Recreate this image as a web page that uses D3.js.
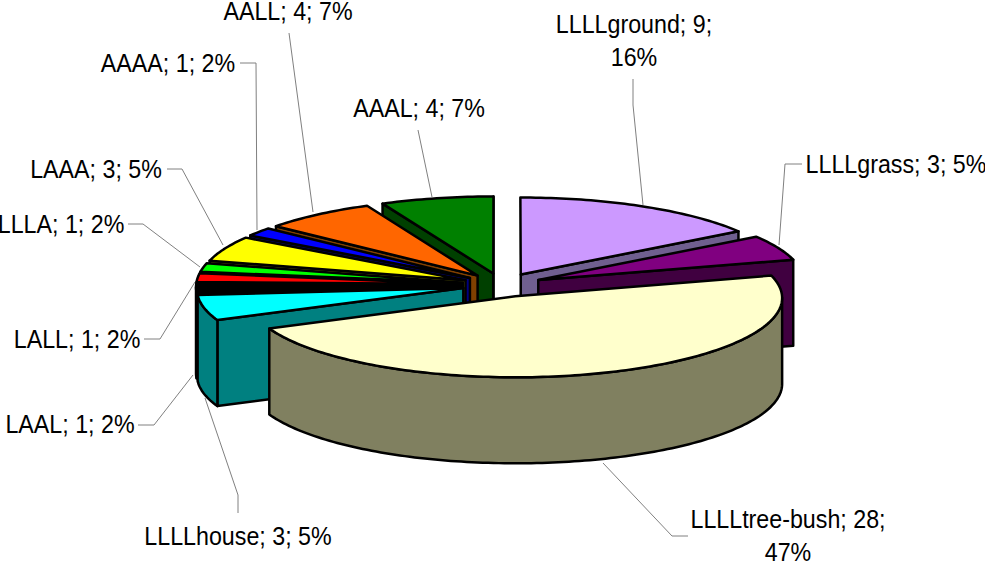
<!DOCTYPE html>
<html><head><meta charset="utf-8">
<style>html,body{margin:0;padding:0;background:#fff}svg{display:block}</style>
<script src="https://cdnjs.cloudflare.com/ajax/libs/d3/7.8.5/d3.min.js"></script>
</head><body><svg id="c" width="985" height="562"></svg>
<script>
const categories=["LLLLground","LLLLgrass","LLLLtree-bush","LLLLhouse","LAAL","LALL","LLLA","LAAA","AAAA","AALL","AAAL"];
const values=[9,3,28,3,1,1,1,3,1,4,4];
const percents=[16,5,47,5,2,2,2,5,2,7,7];
const shares=[15.6,5.2,47.6,5.2,1.8,1.8,1.8,5.2,1.8,7,7];
const topColors=["#CC99FF","#800080","#FFFFCC","#00FFFF","#000000","#FF0000","#00FF00","#FFFF00","#0000FF","#FF6600","#008000"];
const sideColors=["#6F5F8F","#400040","#808060","#008080","#000000","#800000","#008000","#808000","#000080","#804000","#004000"];
const labelWrap=[1,0,1,0,0,0,0,0,0,0,0];
const labelAnchor=[[634,33],[896,173],[788,528],[238,545],[70,433],[77,348],[61,233],[96,178],[168,72],[288,20],[419,117]];
const leaders=[
 [[633,79],[633,105],[643,205]],
 [[802,164],[785,164],[779,245]],
 [[603,463],[672,536],[688,536]],
 [[205,398],[238,495],[238,513]],
 [[193,375],[154,425],[138,425]],
 [[195,282],[160,339],[144,339]],
 [[200,267],[143,224],[128,224]],
 [[223,245],[182,169],[167,169]],
 [[257,230],[256,63],[240,63]],
 [[313,212],[289,33]],
 [[432,197],[418,130]]
];
const cx=502,cy=285,rx=266,ry=79,depth=86,explode=0.15,persp=0.02,lineH=33;
const xS=d3.scaleLinear().domain([-1,1]).range([cx-rx,cx+rx]);
const yS=d3.scaleLinear().domain([-1,1]).range([cy-ry,cy+ry]);
const proj=(X,Y,dz=0)=>{const w=1/(1-persp*Y);return [xS(X*w),yS(Y*w)+dz];};
const svg=d3.select("#c");
const line=d3.line();
const arcs=d3.pie().sort(null).startAngle(0).endAngle(2*Math.PI)(shares);
const gL=svg.append("g");
gL.selectAll("path").data(leaders).join("path").attr("d",d=>line(d)).attr("fill","none").attr("stroke","#808080").attr("stroke-width",1);
const geom=arcs.map((a,i)=>{
  const m=(a.startAngle+a.endAngle)/2,ox=explode*Math.sin(m),oy=-explode*Math.cos(m);
  const pt=(t,dz)=>proj(ox+Math.sin(t),oy-Math.cos(t),dz);
  const apex=dz=>proj(ox,oy,dz);
  const arcPts=(t0,t1,dz)=>{const n=Math.max(2,Math.ceil((t1-t0)/0.02));return d3.range(n+1).map(j=>pt(t0+(t1-t0)*j/n,dz));};
  return {a,i,pt,apex,arcPts};
});
const order=[0,10,9,8,7,6,5,4,1,3,2];
const g=svg.append("g").attr("stroke","#000").attr("stroke-width",2.5).attr("stroke-linejoin","round");
order.forEach(i=>{
  const s=geom[i],a=s.a,t0=a.startAngle,t1=a.endAngle,side=sideColors[i];
  const wall=t=>[s.apex(0),s.pt(t,0),s.pt(t,depth),s.apex(depth)];
  if(Math.sin(t0)<0) g.append("path").attr("d",line(wall(t0))+"Z").attr("fill",side);
  if(Math.sin(t1)>0) g.append("path").attr("d",line(wall(t1))+"Z").attr("fill",side);
  const v0=Math.max(t0,Math.PI/2+persp),v1=Math.min(t1,3*Math.PI/2-persp);
  if(v1>v0){
    const up=s.arcPts(v0,v1,0),lo=s.arcPts(v0,v1,depth).reverse();
    g.append("path").attr("d",line(up.concat(lo))+"Z").attr("fill",side);
  }
  g.append("path").attr("d",line([s.apex(0)].concat(s.arcPts(t0,t1,0)))+"Z").attr("fill",topColors[i]);
});
const gT=svg.append("g").attr("font-family","'Liberation Sans',Arial,sans-serif").attr("font-size",25).attr("fill","#000").attr("text-anchor","middle");
categories.forEach((c,i)=>{
  const lines=labelWrap[i]?[`${c}; ${values[i]};`,`${percents[i]}%`]:[`${c}; ${values[i]}; ${percents[i]}%`];
  lines.forEach((t,j)=>{
    gT.append("text").attr("transform",`translate(${labelAnchor[i][0]},${labelAnchor[i][1]+j*lineH}) scale(0.93,1)`).text(t);
  });
});
</script></body></html>
